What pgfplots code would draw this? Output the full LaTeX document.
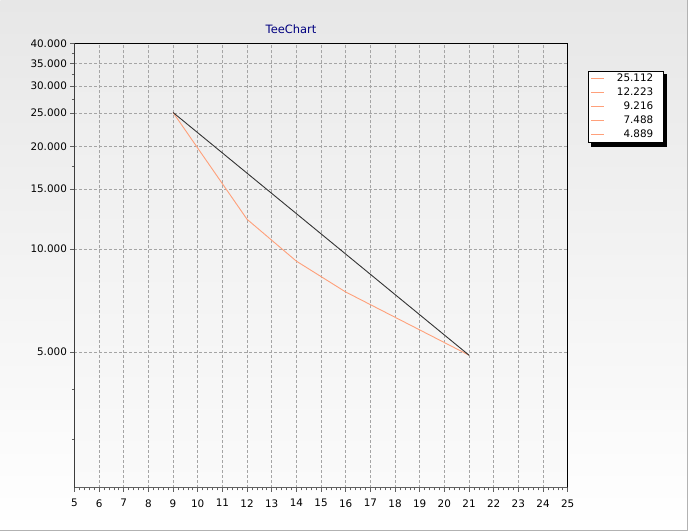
\documentclass[border=0pt]{standalone}
\usepackage{pgfplots}
\pgfplotsset{compat=1.18}
\usepackage{fontspec}
\setmainfont{DejaVu Sans}
\definecolor{salmonline}{RGB}{255,160,122}
\definecolor{gridgray}{RGB}{165,165,165}
\definecolor{axisgray}{RGB}{95,95,95}
\definecolor{titlenavy}{RGB}{0,0,128}
\definecolor{bgtop}{RGB}{231,231,231}
\definecolor{plottop}{RGB}{236,236,236}
\definecolor{plotbot}{RGB}{250,250,250}
\pgfdeclarelayer{bglayer}
\pgfdeclarelayer{shadowlayer}
\pgfsetlayers{bglayer,shadowlayer,main}
\pgfplotstableread{
x y
9 25.112
12 12.223
14 9.216
16 7.488
21 4.889
}\orangedata
\pgfplotstableread{
x y
9 25.112
21 4.889
}\blackdata
\begin{document}
\begin{tikzpicture}[x=1pt,y=1pt]
\begin{pgfonlayer}{bglayer}
\shade[top color=bgtop, bottom color=white] (0,0) rectangle (688,531);
\draw[gray!60, line width=1pt] (687.5,0) -- (687.5,531);
\draw[gray!60, line width=1pt] (0,0.5) -- (688,0.5);
\end{pgfonlayer}
\node[text=titlenavy, font=\fontsize{11.5}{13}\selectfont] at (291,502) {TeeChart};
\begin{axis}[
  at={(74pt,43pt)}, anchor=south west,
  scale only axis, width=494pt, height=445pt,
  xmin=5, xmax=25, ymode=log, ymin=2, ymax=40,
  xtick={5,6,...,25}, minor x tick num=4,
  ytick={5,10,15,20,25,30,35,40},
  yticklabels={5.000,10.000,15.000,20.000,25.000,30.000,35.000,40.000},
  minor ytick={37.5,32.5,27.5,17.5,3.89,2.77},
  /pgf/number format/assume math mode=true,
  ticklabel style={font=\fontsize{10.4}{12}\selectfont, text=black},
  xticklabel style={yshift=-4pt},
  tick align=outside, xtick pos=bottom, ytick pos=left,
  major tick length=4pt, minor tick length=2.5pt,
  tick style={axisgray, line width=0.6pt},
  grid=major,
  major grid style={gridgray, dash pattern=on 3pt off 2pt, line width=0.7pt},
  axis line style={black, line width=0.7pt},
  axis background/.style={top color=plottop, bottom color=plotbot},
  legend style={name=leg, at={(1.0405,0.939)}, anchor=north west, draw=black, fill=white,
    font=\fontsize{10.4}{12}\selectfont, line width=0.8pt,
    nodes={text height=8pt, text depth=2.5pt, inner ysep=1.75pt, inner xsep=2pt},
    row sep=0pt, column sep=10pt, inner xsep=3pt, inner ysep=1pt},
  legend cell align=right,
  legend image code/.code={\draw[#1] (0pt,0pt) -- (13pt,0pt);},
]
\addplot[salmonline, line width=0.9pt, forget plot] table[x=x,y=y] {\orangedata};
\addplot[black!80, line width=0.9pt, forget plot] table[x=x,y=y] {\blackdata};
\addlegendimage{salmonline, line width=0.9pt}\addlegendentry{25.112\hspace*{5pt}}
\addlegendimage{salmonline, line width=0.9pt}\addlegendentry{12.223\hspace*{5pt}}
\addlegendimage{salmonline, line width=0.9pt}\addlegendentry{9.216\hspace*{5pt}}
\addlegendimage{salmonline, line width=0.9pt}\addlegendentry{7.488\hspace*{5pt}}
\addlegendimage{salmonline, line width=0.9pt}\addlegendentry{4.889\hspace*{5pt}}
\draw[axisgray, line width=2.2pt] (rel axis cs:0,1) -- (rel axis cs:0,0) -- (rel axis cs:1,0);
\end{axis}
\begin{pgfonlayer}{shadowlayer}
\fill[black] ([shift={(3.5pt,-3.5pt)}]leg.south west) rectangle ([shift={(3.5pt,-3.5pt)}]leg.north east);
\end{pgfonlayer}
\end{tikzpicture}
\end{document}
